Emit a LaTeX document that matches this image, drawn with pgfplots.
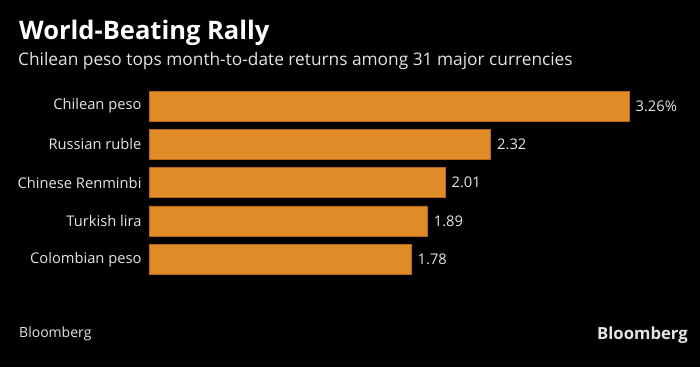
\documentclass[border=0pt]{standalone}
\usepackage{fontspec}
\setmainfont{Open Sans}
\usepackage{pgfplots}
\pgfplotsset{compat=1.18}
\definecolor{barc}{RGB}{224,139,40}
\definecolor{bard}{RGB}{180,105,20}
\definecolor{txt}{RGB}{228,228,228}
\begin{document}
\begin{tikzpicture}
\fill[black] (0pt,0pt) rectangle (700pt,367pt);
\node[anchor=base west, text=white, font=\fontsize{25.5}{25.5}\selectfont\bfseries, inner sep=0] at (19pt,327.7pt) {World-Beating Rally};
\node[anchor=base west, text=txt, font=\fontsize{17.3}{17.3}\selectfont, inner sep=0] at (18pt,301.3pt) {Chilean peso tops month-to-date returns among 31 major currencies};
\node[anchor=west, text=txt, font=\fontsize{14}{14}\selectfont, inner sep=0] at (19pt,33.5pt) {Bloomberg};
\node[anchor=east, text=txt, font=\fontsize{16.7}{16.7}\selectfont\bfseries, inner sep=0] at (688pt,32pt) {Bloomberg};
\begin{axis}[
  at={(149pt,88.65pt)}, anchor=south west,
  scale only axis, width=480pt, height=191.5pt,
  xmin=0, xmax=3.26, ymin=-0.5, ymax=4.5,
  xbar, bar width=30pt,
  axis line style={draw=none},
  xtick=\empty,
  ytick={0,1,2,3,4},
  yticklabels={Colombian peso,Turkish lira,Chinese Renminbi,Russian ruble,Chilean peso},
  major tick length=0pt,
  yticklabel style={text=txt, font=\fontsize{14.7}{14.7}\selectfont, xshift=-4pt},
  clip=false,
  point meta=explicit symbolic,
  nodes near coords,
  nodes near coords style={text=txt, font=\fontsize{14.7}{14.7}\selectfont, anchor=west, xshift=3pt},
]
\addplot[fill=barc, draw=bard, line width=0.6pt] coordinates {
  (1.78,0) [1.78]
  (1.89,1) [1.89]
  (2.01,2) [2.01]
  (2.32,3) [2.32]
  (3.26,4) [3.26\%]
};
\end{axis}
\end{tikzpicture}
\end{document}
